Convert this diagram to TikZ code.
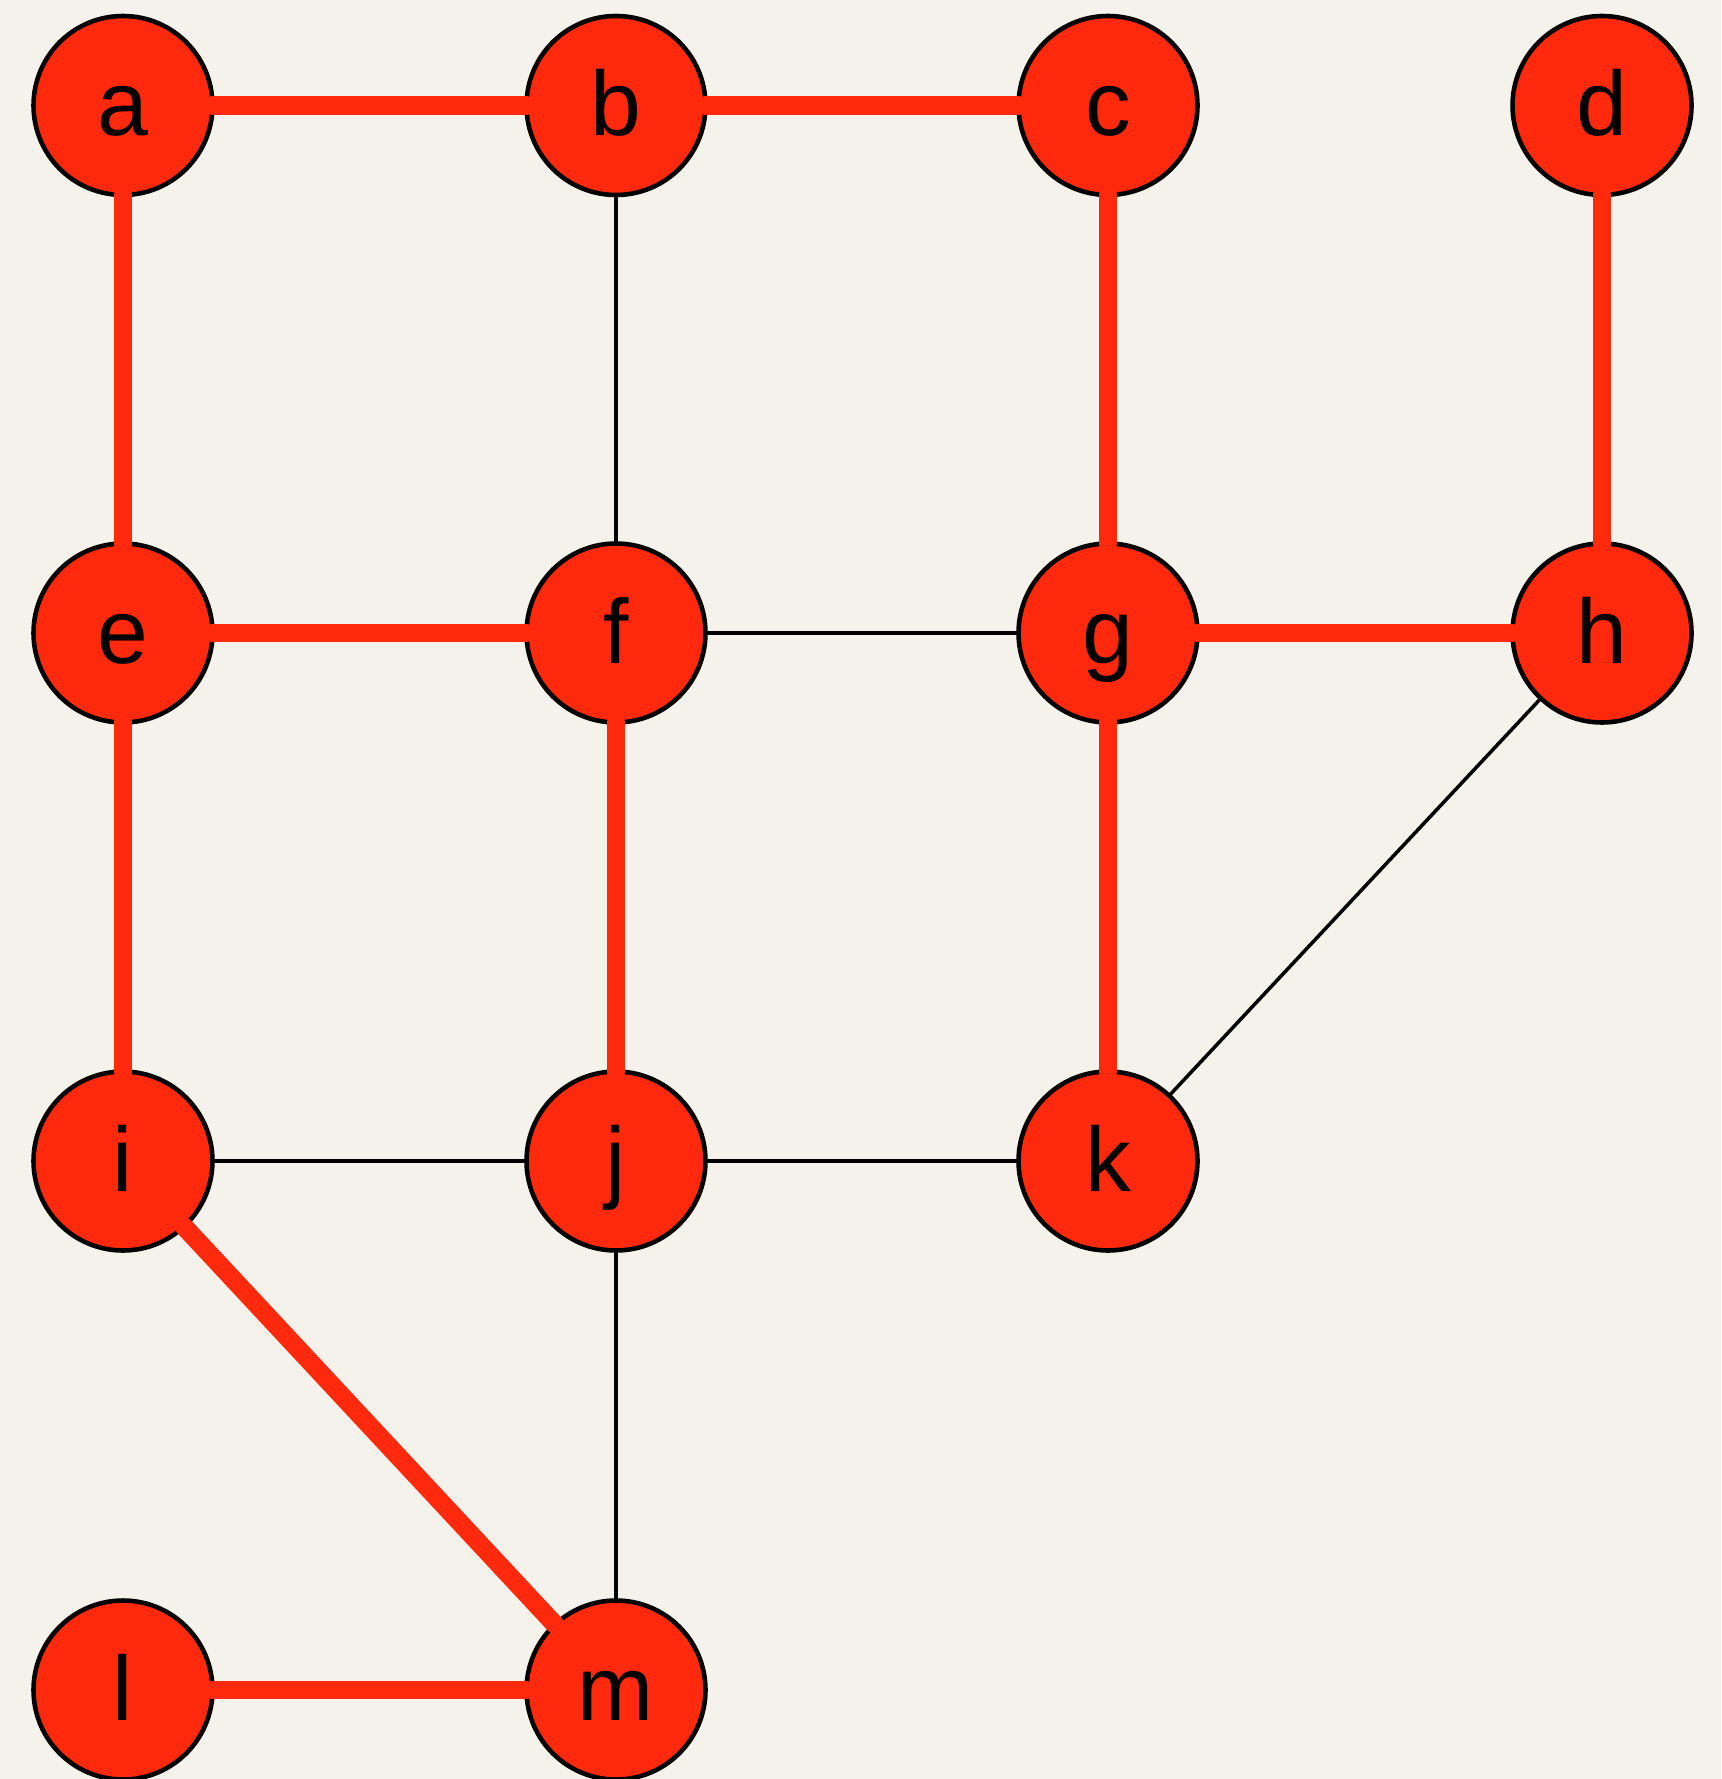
\documentclass[tikz,border=0pt]{standalone}
\usepackage{fontspec}
\usepackage{xcolor}
\usepackage{tikz}
\usetikzlibrary{positioning}
\newfontfamily\vtxfont{Liberation Sans}
\definecolor{PaperBg}{RGB}{244,242,235}
\definecolor{VtxRed}{RGB}{255,42,14}
\tikzset{
  vtx/.style={circle,draw=black,line width=1.3pt,fill=VtxRed,minimum size=1.79cm,
              inner sep=0pt,outer sep=0pt,text height=0.65cm,text depth=0.05cm,
              font=\vtxfont\fontsize{26}{30}\selectfont},
  hot/.style={line width=5.3pt,VtxRed,line cap=round},
  cold/.style={line width=1pt,black},
}

\begin{document}
\begin{tikzpicture}
  \fill[PaperBg] (0,0) rectangle (17.21,-17.79);
  \useasboundingbox (0,0) rectangle (17.21,-17.79);
  % vertices
  \node[vtx] (a) at (1.23,-1.055) {a};
  \node[vtx] (b) at (6.16,-1.055) {b};
  \node[vtx] (c) at (11.08,-1.055) {c};
  \node[vtx] (d) at (16.02,-1.055) {d};
  \node[vtx] (e) at (1.23,-6.33) {e};
  \node[vtx] (f) at (6.16,-6.33) {f};
  \node[vtx] (g) at (11.08,-6.33) {g};
  \node[vtx] (h) at (16.02,-6.33) {h};
  \node[vtx] (i) at (1.23,-11.61) {i};
  \node[vtx] (j) at (6.16,-11.61) {j};
  \node[vtx] (k) at (11.08,-11.61) {k};
  \node[vtx] (l) at (1.23,-16.90) {l};
  \node[vtx] (m) at (6.16,-16.90) {m};
  % plain edges
  \draw[cold] (b)--(f); \draw[cold] (f)--(g); \draw[cold] (h)--(k);
  \draw[cold] (i)--(j); \draw[cold] (j)--(k); \draw[cold] (j)--(m);
  % highlighted edges
  \draw[hot] (a)--(b); \draw[hot] (b)--(c); \draw[hot] (a)--(e);
  \draw[hot] (c)--(g); \draw[hot] (d)--(h); \draw[hot] (e)--(f);
  \draw[hot] (g)--(h); \draw[hot] (e)--(i); \draw[hot] (f)--(j);
  \draw[hot] (g)--(k); \draw[hot] (i)--(m); \draw[hot] (l)--(m);
\end{tikzpicture}
\end{document}
